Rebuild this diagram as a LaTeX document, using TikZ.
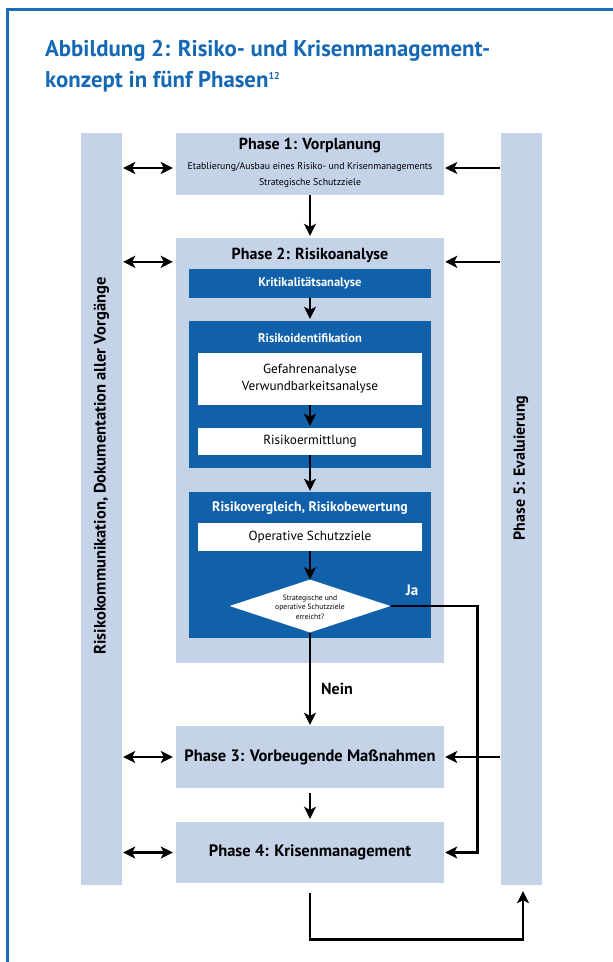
\documentclass[tikz,border=0pt]{standalone}
\usepackage{fontspec}
\setmainfont{PT Sans}
\usetikzlibrary{arrows.meta,shapes.geometric,calc}
\definecolor{light}{RGB}{197,211,233}
\definecolor{dark}{RGB}{17,96,170}
\definecolor{ttl}{RGB}{20,104,180}
\definecolor{frm}{RGB}{26,109,184}
\begin{document}
\begin{tikzpicture}[x=1pt,y=-1pt,
  phase/.style={fill=light, minimum width=268pt, inner sep=0pt, text=black, font=\bfseries\fontsize{16.5}{18}\selectfont},
  darkbox/.style={fill=dark, minimum width=242pt, inner sep=0pt},
  whitebox/.style={fill=white, minimum width=224pt, inner sep=0pt, align=center, font=\fontsize{13.2}{17}\selectfont},
  inttl/.style={text=white, font=\bfseries\fontsize{12.5}{14}\selectfont, inner sep=0pt},
  bar/.style={fill=light, minimum width=41pt, minimum height=752pt, inner sep=0pt},
  arr/.style={line width=2.6pt, -{Stealth[length=12pt,width=12pt,inset=3pt]}},
  darr/.style={line width=2.6pt, {Stealth[length=12pt,width=12pt,inset=3pt]}-{Stealth[length=12pt,width=12pt,inset=3pt]}},
]
\useasboundingbox (0,0) rectangle (613,962);
% frame
\draw[frm, line width=3pt] (7.5,970) -- (7.5,9.5) -- (620,9.5);
% title
\node[anchor=base west, text=ttl, font=\bfseries\fontsize{22.8}{26}\selectfont, inner sep=0pt] (t1) at (45,56) {Abbildung 2: Risiko- und Krisenmanagement-};
\node[anchor=base west, text=ttl, font=\bfseries\fontsize{22.8}{26}\selectfont, inner sep=0pt] (t2) at (45,87) {konzept in fünf Phasen\raisebox{8pt}{\bfseries\fontsize{10}{10}\selectfont 12}};
% side bars
\node[bar] (lbar) at (101.5,509) {};
\node[bar] (rbar) at (521,509) {};
\node[rotate=90, font=\bfseries\fontsize{16.5}{18}\selectfont] (ltxt) at (101.5,466) {Risikokommunikation, Dokumentation aller Vorgänge};
\node[rotate=90, font=\bfseries\fontsize{16}{18}\selectfont] (rtxt) at (521,468) {Phase 5: Evaluierung};
% phase 1
\node[phase, minimum height=62pt] (p1) at (310,164) {};
\node[font=\bfseries\fontsize{16}{18}\selectfont, inner sep=0pt] (p1t) at (310,145) {Phase 1: Vorplanung};
\node[font=\fontsize{9.8}{16}\selectfont, align=center, inner sep=0pt] (p1s) at (310,175) {Etablierung/Ausbau eines Risiko- und Krisenmanagements\\Strategische Schutzziele};
% phase 2
\node[phase, minimum height=425pt] (p2) at (310,450.5) {};
\node[font=\bfseries\fontsize{16}{18}\selectfont, inner sep=0pt] (p2t) at (310,255) {Phase 2: Risikoanalyse};
\node[darkbox, minimum height=29pt, inttl] (krit) at (310,283.5) {Kritikalitätsanalyse};
\node[darkbox, minimum height=147pt] (ident) at (310,394.5) {};
\node[inttl] (identt) at (310,338) {Risikoidentifikation};
\node[whitebox, minimum height=52pt] (gef) at (310,379) {Gefahrenanalyse\\Verwundbarkeitsanalyse};
\node[whitebox, minimum height=27pt] (erm) at (310,441.5) {Risikoermittlung};
\node[darkbox, minimum height=146pt] (verg) at (310,565) {};
\node[inttl, font=\bfseries\fontsize{13.8}{15}\selectfont] (vergt) at (310,508) {Risikovergleich, Risikobewertung};
\node[whitebox, minimum height=28pt] (op) at (310,537) {Operative Schutzziele};
\node[diamond, fill=white, minimum width=161pt, minimum height=53pt, inner sep=0pt] (dia) at (310,606) {};
\node[align=center, font=\fontsize{7.6}{9.5}\selectfont, inner sep=0pt] (diat) at (310,607) {Strategische und\\operative Schutzziele\\erreicht?};
\node[text=white, font=\bfseries\fontsize{15}{16}\selectfont, inner sep=0pt] (ja) at (412,590) {Ja};
% phase 3, 4
\node[phase, minimum height=62pt] (p3) at (310,757) {Phase 3: Vorbeugende Maßnahmen};
\node[phase, minimum height=61pt] (p4) at (310,852.5) {Phase 4: Krisenmanagement};
\node[font=\bfseries\fontsize{16}{18}\selectfont, inner sep=0pt] (nein) at (337,689) {Nein};
% vertical flow arrows
\draw[arr] (p1.south) -- ([yshift=2pt]p2.north);
\draw[arr] (krit.south) -- ([yshift=2pt]ident.north);
\draw[arr] (gef.south) -- ([yshift=2pt]erm.north);
\draw[arr] (erm.south) -- ([yshift=1pt]verg.north);
\draw[arr] (op.south) -- (dia.north);
\draw[arr] (dia.south) -- ([yshift=1pt]p3.north);
\draw[arr, shorten <=5pt, shorten >=3pt] (p3.south) -- (p4.north);
% Ja path
\draw[arr] (dia.east) -- ++(87,0) |- ([xshift=1pt]p4.east);
% right arrows from Phase 5
\draw[arr] ($(rbar.west |- p1.east)+(0,4)$) -- ($(p1.east)+(1,4)$);
\draw[arr] ($(rbar.west |- p2.north)+(0,24)$) -- ($(p2.north east)+(1,24)$);
\draw[arr] (rbar.west |- p3.east) -- ([xshift=1pt]p3.east);
% left double arrows
\draw[darr] ($(lbar.east |- p1.west)+(1,4)$) -- ($(p1.west)+(-3,4)$);
\draw[darr] ($(lbar.east |- p2.north)+(1,24)$) -- ($(p2.north west)+(-3,24)$);
\draw[darr] ($(lbar.east |- p3.west)+(1,0)$) -- ($(p3.west)+(-3,0)$);
\draw[darr] ($(lbar.east |- p4.west)+(1,0)$) -- ($(p4.west)+(-3,0)$);
% bottom feedback
\coordinate (bl) at ($(p4.south)+(0,56)$);
\draw[arr] ($(p4.south)+(0,10)$) -- (bl) -| ($(rbar.south)+(2,6)$);
\end{tikzpicture}
\end{document}
